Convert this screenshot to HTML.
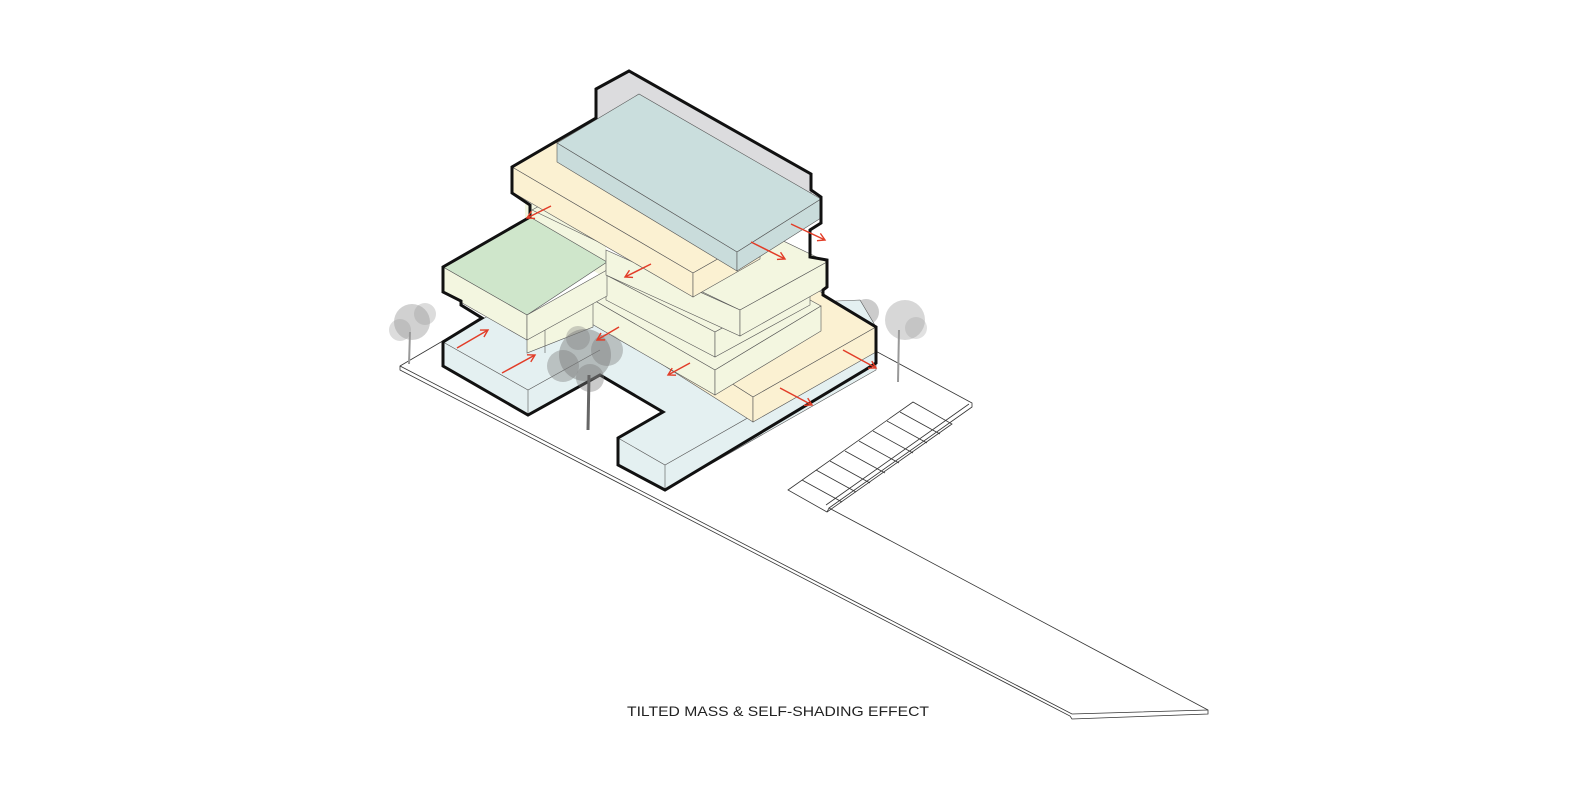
<!DOCTYPE html>
<html><head><meta charset="utf-8"><style>
html,body{margin:0;padding:0;background:#fff;}
svg{display:block;}
</style></head><body>
<svg width="1582" height="791" viewBox="0 0 1582 791" xmlns="http://www.w3.org/2000/svg">
<defs>
<marker id="ah" markerWidth="10" markerHeight="10" refX="8" refY="5" orient="auto" markerUnits="userSpaceOnUse">
<path d="M1,1 L8,5 L1,9" fill="none" stroke="#e23d28" stroke-width="1.4"/>
</marker>
</defs>
<!-- site -->
<g fill="none" stroke="#333" stroke-width="0.8">
<polyline points="482,318 400,366 400,370 1070,716 1072,719 1208,714 1208,710 829,508 827,512"/>
<polyline points="400,366 1072,714 1208,710"/>
<polyline points="870,348 972,403 972,407 829,508"/>
<polyline points="969,404 826,505"/>
<polygon points="788,490 913,402 952,424 827,512"/>
<line x1="802" y1="480" x2="842" y2="502"/>
<line x1="816" y1="470" x2="856" y2="492"/>
<line x1="830" y1="461" x2="870" y2="483"/>
<line x1="845" y1="451" x2="885" y2="473"/>
<line x1="859" y1="441" x2="899" y2="463"/>
<line x1="873" y1="431" x2="913" y2="453"/>
<line x1="887" y1="421" x2="927" y2="443"/>
<line x1="900" y1="412" x2="940" y2="434"/>
</g>
<!-- trees behind -->
<g fill="#9a9a9a">
<circle cx="412" cy="322" r="18" opacity="0.45"/><circle cx="400" cy="330" r="11" opacity="0.35"/><circle cx="425" cy="314" r="11" opacity="0.35"/>
<circle cx="866" cy="312" r="13" opacity="0.5"/><circle cx="905" cy="320" r="20" opacity="0.4"/><circle cx="916" cy="328" r="11" opacity="0.3"/>
</g>
<g stroke="#999" stroke-width="2" fill="none"><line x1="410" y1="332" x2="409" y2="364"/><line x1="899" y1="330" x2="898" y2="382"/></g>

<!-- gray back -->
<polygon points="596,89 629,71 811,174 811,200 596,118" fill="#dcdcde" stroke="#555" stroke-width="0.6"/>
<!-- base blue -->
<polygon points="443,342 488,316 860,300 876,327 876,370 665,490 618,465 618,438 663,412 600,375 528,415 443,366" fill="#e4f0f1" stroke="#555" stroke-width="0.6"/>
<g fill="none" stroke="#555" stroke-width="0.6">
<polyline points="443,342 528,390 600,350"/><line x1="528" y1="390" x2="528" y2="415"/>
<polyline points="618,438 665,465 876,345"/><line x1="665" y1="465" x2="665" y2="490"/>
</g>
<!-- lower yellow E -->
<polygon points="600,300 723,230 876,327 753,397" fill="#fbf1d2" stroke="#555" stroke-width="0.6"/>
<polygon points="600,300 753,397 753,422 600,325" fill="#fbf1d2" stroke="#555" stroke-width="0.6"/>
<polygon points="753,397 876,327 876,352 753,422" fill="#fbf1d2" stroke="#555" stroke-width="0.6"/>
<!-- M2 -->
<polygon points="590,298 700,240 821,306 715,370" fill="#f3f6e0" stroke="#555" stroke-width="0.6"/>
<polygon points="590,298 715,370 715,395 590,323" fill="#f3f6e0" stroke="#555" stroke-width="0.6"/>
<polygon points="715,370 821,306 821,331 715,395" fill="#f3f6e0" stroke="#555" stroke-width="0.6"/>
<!-- M3 -->
<polygon points="606,275 700,215 810,280 715,332" fill="#f3f6e0" stroke="#555" stroke-width="0.6"/>
<polygon points="606,275 715,332 715,357 606,300" fill="#f3f6e0" stroke="#555" stroke-width="0.6"/>
<polygon points="715,332 810,280 810,305 715,357" fill="#f3f6e0" stroke="#555" stroke-width="0.6"/>
<!-- under-green block -->
<polygon points="527,327 593,290 593,327 527,353" fill="#f3f6e0" stroke="#555" stroke-width="0.6"/>
<line x1="545" y1="317" x2="545" y2="353" stroke="#555" stroke-width="0.6"/>
<!-- filler pale strip behind green -->
<polygon points="525,200 606,246 606,278 525,232" fill="#f3f6e0"/>
<!-- green block -->
<polygon points="443,267 530,217 607,262 527,315" fill="#cfe6cb" stroke="#555" stroke-width="0.6"/>
<polygon points="443,267 527,315 527,340 443,292" fill="#f3f6e0" stroke="#555" stroke-width="0.6"/>
<polygon points="527,315 607,270 607,296 527,340" fill="#f3f6e0" stroke="#555" stroke-width="0.6"/>
<!-- M1 -->
<polygon points="532,210 619,162 827,262 740,310" fill="#f3f6e0" stroke="#555" stroke-width="0.6"/>
<polygon points="606,250 740,310 740,336 606,275" fill="#f3f6e0" stroke="#555" stroke-width="0.6"/>
<polygon points="740,310 827,262 827,287 740,336" fill="#f3f6e0" stroke="#555" stroke-width="0.6"/>
<!-- yellow upper -->
<polygon points="512,167 579,129 760,235 693,273" fill="#fbf1d2" stroke="#555" stroke-width="0.6"/>
<polygon points="512,167 693,273 693,297 512,192" fill="#fbf1d2" stroke="#555" stroke-width="0.6"/>
<polygon points="693,273 760,235 760,259 693,297" fill="#fbf1d2" stroke="#555" stroke-width="0.6"/>
<!-- blue top -->
<polygon points="557,143 639,94 821,199 737,252" fill="#cadedd" stroke="#555" stroke-width="0.6"/>
<polygon points="557,143 737,252 737,271 557,162" fill="#c9dcdb" stroke="#555" stroke-width="0.6"/>
<polygon points="737,252 821,199 821,218 737,271" fill="#c9dcdb" stroke="#555" stroke-width="0.6"/>

<!-- outline -->
<polygon points="596,89 629,71 811,174 811,190 821,197 821,223 810,230 810,257 827,260 827,287 823,290 823,295 876,327 876,363 865,370 665,490 618,465 618,438 663,412 600,375 528,415 443,366 443,342 482,318 461,305 461,301 443,292 443,267 530,217 530,205 512,193 512,167 596,118" fill="none" stroke="#111" stroke-width="3" stroke-linejoin="miter"/>

<!-- courtyard tree -->
<g fill="#7a7a7a">
<circle cx="585" cy="355" r="26" opacity="0.45"/><circle cx="563" cy="366" r="16" opacity="0.4"/><circle cx="607" cy="350" r="16" opacity="0.4"/><circle cx="590" cy="378" r="14" opacity="0.4"/><circle cx="578" cy="338" r="12" opacity="0.35"/>
</g>
<line x1="589" y1="375" x2="588" y2="430" stroke="#666" stroke-width="3"/>

<!-- arrows -->
<g stroke="#e23d28" stroke-width="1.5" fill="none" marker-end="url(#ah)">
<line x1="551" y1="206" x2="527" y2="218"/>
<line x1="651" y1="264" x2="625" y2="277"/>
<line x1="791" y1="224" x2="825" y2="240"/>
<line x1="751" y1="242" x2="785" y2="259"/>
<line x1="457" y1="348" x2="488" y2="330"/>
<line x1="502" y1="373" x2="535" y2="355"/>
<line x1="619" y1="327" x2="597" y2="340"/>
<line x1="690" y1="363" x2="668" y2="375"/>
<line x1="843" y1="350" x2="876" y2="368"/>
<line x1="780" y1="388" x2="812" y2="405"/>
</g>
<text x="627" y="716" font-family="Liberation Sans, sans-serif" font-size="14" fill="#222" textLength="302" lengthAdjust="spacingAndGlyphs">TILTED MASS &amp; SELF-SHADING EFFECT</text>
</svg>
</body></html>
